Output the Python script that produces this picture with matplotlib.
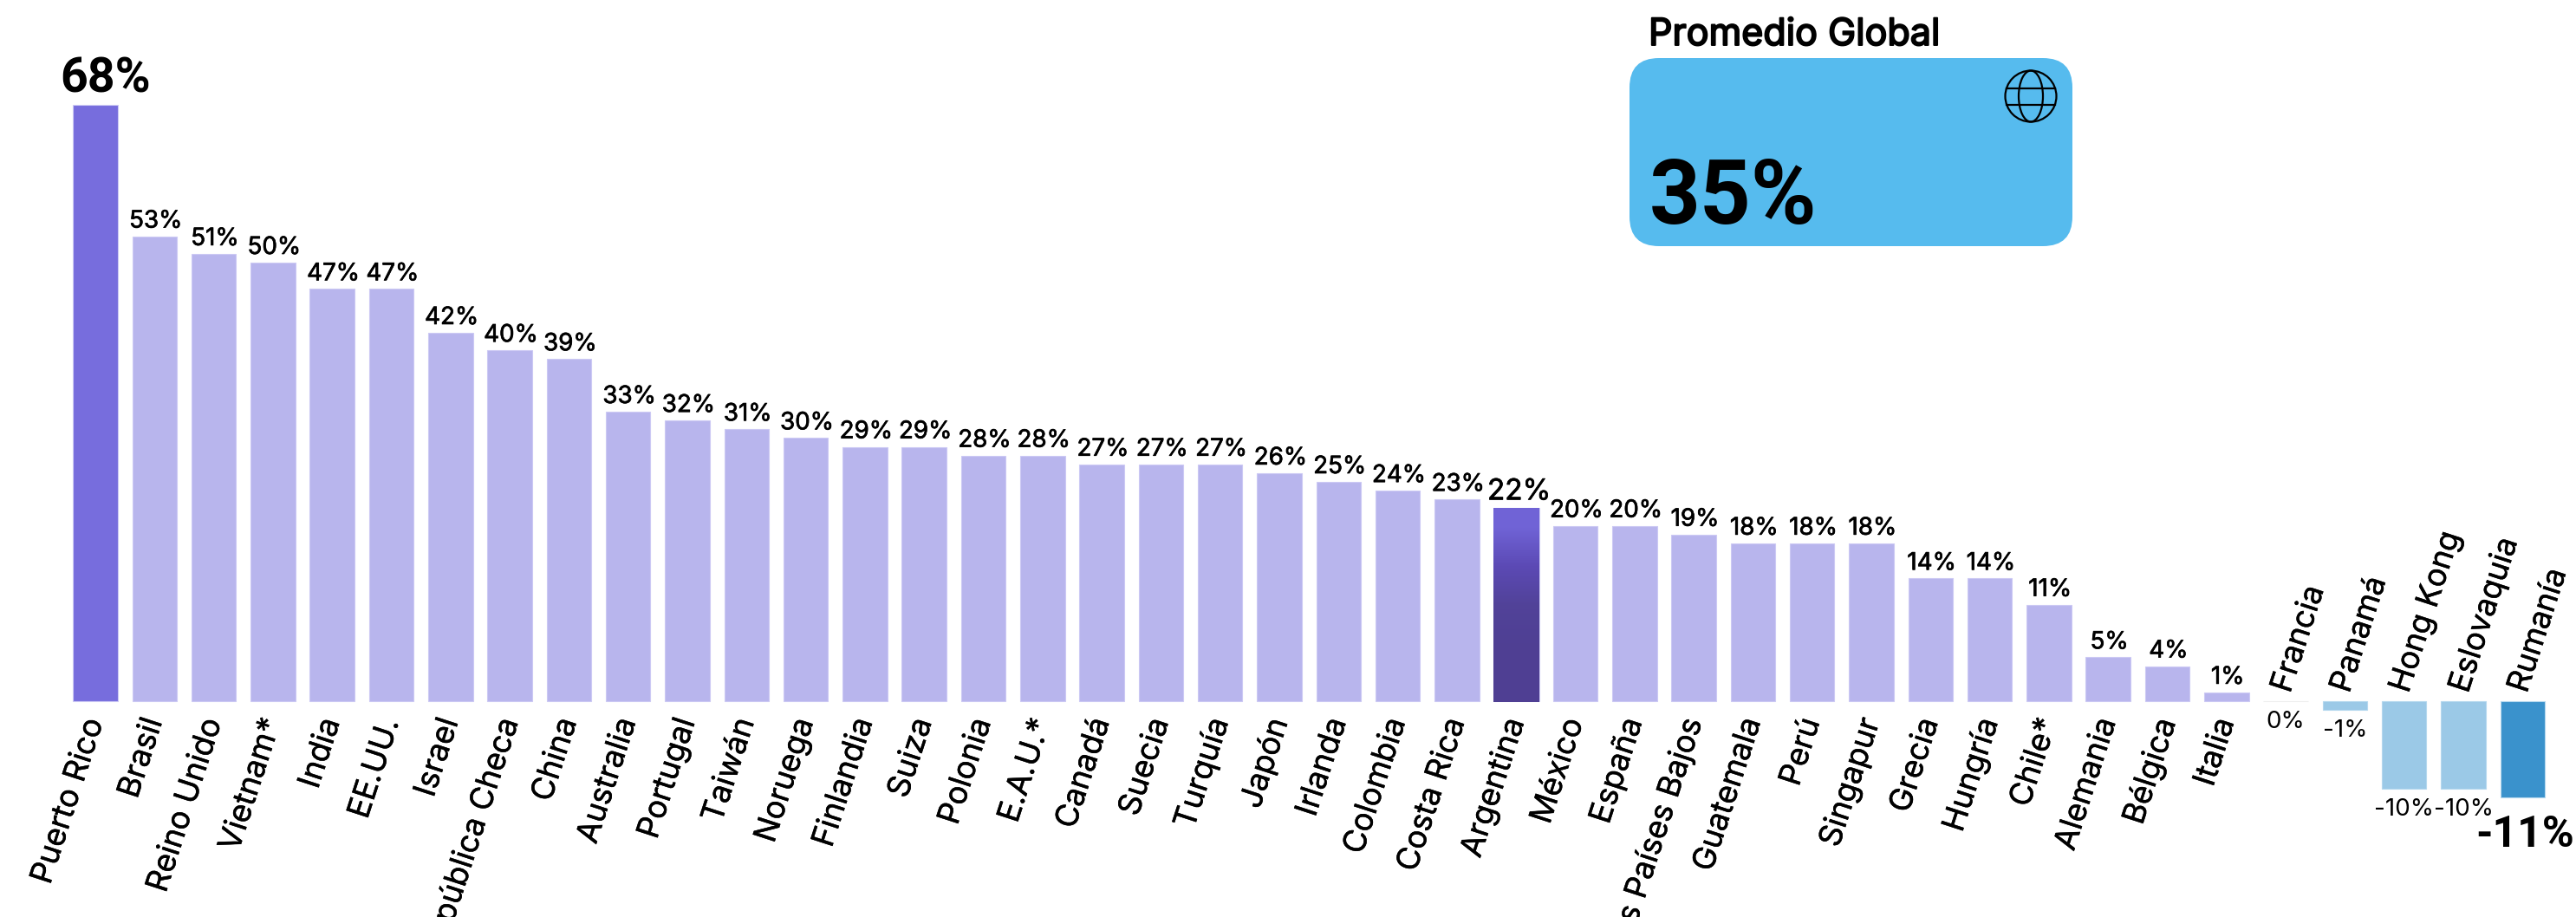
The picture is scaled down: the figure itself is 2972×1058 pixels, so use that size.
# grafico de barras por pais, promedio global aparte
import matplotlib
matplotlib.use('Agg')
import matplotlib.pyplot as plt
import numpy as np
from matplotlib.patches import FancyBboxPatch, Circle, Ellipse
import matplotlib.patheffects as pe

paises = ['Puerto Rico', 'Brasil', 'Reino Unido', 'Vietnam*', 'India', 'EE.UU.', 'Israel',
          'República Checa', 'China', 'Australia', 'Portugal', 'Taiwán', 'Noruega', 'Finlandia',
          'Suiza', 'Polonia', 'E.A.U.*', 'Canadá', 'Suecia', 'Turquía', 'Japón', 'Irlanda',
          'Colombia', 'Costa Rica', 'Argentina', 'México', 'España', 'Los Países Bajos',
          'Guatemala', 'Perú', 'Singapur', 'Grecia', 'Hungría', 'Chile*', 'Alemania', 'Bélgica',
          'Italia', 'Francia', 'Panamá', 'Hong Kong', 'Eslovaquia', 'Rumanía']
valores = [68, 53, 51, 50, 47, 47, 42, 40, 39, 33, 32, 31, 30, 29, 29, 28, 28, 27, 27, 27, 26,
           25, 24, 23, 22, 20, 20, 19, 18, 18, 18, 14, 14, 11, 5, 4, 1, 0, -1, -10, -10, -11]
promedio_global = 35

W, H = 2972, 1058
plt.rcParams['font.family'] = ['Inter', 'DejaVu Sans']
fig = plt.figure(figsize=(W / 100, H / 100), dpi=100, facecolor='white')

# 68.3 px por pais, 10.12 px por punto, base en y=809
ax = fig.add_axes([0, 0, 1, 1])
ax.set_xlim(-110 / 68.3, (W - 110) / 68.3)
ax.set_ylim(-(H - 809) / 10.12, 809 / 10.12)
ax.axis('off')

x = np.arange(len(paises))
colores = []
for v in valores:
    colores.append('#B8B5ED' if v >= 0 else '#9BC9E7')
colores[-1] = '#3A92CC'
colores[0] = '#776DDD'
anchos = [0.755] * len(paises)
anchos[24] = 0.775
barras = ax.bar(x, valores, width=anchos, color=colores, edgecolor='#CCC9F4', linewidth=0.8)
for i in range(len(paises) - 5, len(paises)):
    barras[i].set_edgecolor('#B5D8EE')
barras[37].set_edgecolor('#EEEEEE')

# degradado de Argentina
grad = np.array([[0.44, 0.39, 0.84], [0.36, 0.29, 0.71], [0.32, 0.26, 0.60], [0.31, 0.25, 0.58],
                 [0.31, 0.25, 0.58]]).reshape(5, 1, 3)
ax.imshow(grad, extent=(24 - anchos[24] / 2, 24 + anchos[24] / 2, -0.1, valores[24]),
          aspect='auto', interpolation='bilinear', origin='upper', zorder=3)
ax.set_xlim(-110 / 68.3, (W - 110) / 68.3)
ax.set_ylim(-(H - 809) / 10.12, 809 / 10.12)

medio = [pe.withStroke(linewidth=0.5, foreground='black')]

# etiquetas de valor: las dos grandes en Roboto porque Inter sale muy ancha
for i, v in enumerate(valores):
    base = min(v, 0) if v < 0 else v
    if i == 0:
        ax.annotate(f'{v}%', (i, base), xytext=(8, 10), textcoords='offset points', ha='center',
                    va='baseline', fontsize=40, fontweight='bold', family=['Roboto', 'DejaVu Sans'], zorder=5)
    elif i == len(valores) - 1:
        ax.annotate(f'{v}%', (i, base), xytext=(2, -41), textcoords='offset points', ha='center',
                    va='baseline', fontsize=36, fontweight='bold', family=['Roboto', 'DejaVu Sans'], zorder=5)
    elif v <= 0:
        ax.annotate(f'{v}%', (i, base), xytext=(0, -22.5), textcoords='offset points', ha='center',
                    va='baseline', fontsize=20, zorder=5)
    else:
        size = 24 if i == 24 else 20
        ax.annotate(f'{v}%', (i, base), xytext=(2.5 if i == 24 else 1, 7.2), textcoords='offset points',
                    ha='center', va='baseline', fontsize=size, path_effects=medio, zorder=5)

# nombres de pais
fino = [pe.withStroke(linewidth=0.3, foreground='black')]
for i, nombre in enumerate(paises):
    if valores[i] > 0:
        ax.annotate(nombre, (i, 0), xytext=(0, -15), textcoords='offset points', rotation=72,
                    rotation_mode='anchor', ha='right', va='center', fontsize=26.2, path_effects=fino)
    else:
        ax.annotate(nombre, (i, 0), xytext=(-3, 8), textcoords='offset points', rotation=72,
                    rotation_mode='anchor', ha='left', va='center', fontsize=26.2, path_effects=fino)

# recuadro del promedio, en pixeles
cx = fig.add_axes([0, 0, 1, 1])
cx.set_xlim(0, W)
cx.set_ylim(H, 0)
cx.axis('off')
cx.patch.set_alpha(0)
cx.add_patch(FancyBboxPatch((1880 + 34, 67 + 34), 511 - 68, 217 - 68, boxstyle='round,pad=34',
                            facecolor='#56BBEE', edgecolor='none'))
cx.text(1902, 52, 'Promedio Global', fontsize=31, va='baseline', ha='left',
        path_effects=[pe.withStroke(linewidth=1.4, foreground='black')])
cx.text(1903, 258, f'{promedio_global}%', fontsize=74, fontweight='bold', va='baseline', ha='left',
        family=['Roboto', 'DejaVu Sans'])
cx.add_patch(Circle((2343, 111), 29.5, fill=False, edgecolor='black', linewidth=1.6))
cx.add_patch(Ellipse((2343, 111), 28, 59, fill=False, edgecolor='black', linewidth=1.6))
for yy in (101.5, 120.5):
    semi = np.sqrt(29.5 ** 2 - (yy - 111) ** 2)
    cx.plot([2343 - semi, 2343 + semi], [yy, yy], color='black', lw=1.6)
cx.set_xlim(0, W)
cx.set_ylim(H, 0)

fig.savefig('out.png', dpi=100)
